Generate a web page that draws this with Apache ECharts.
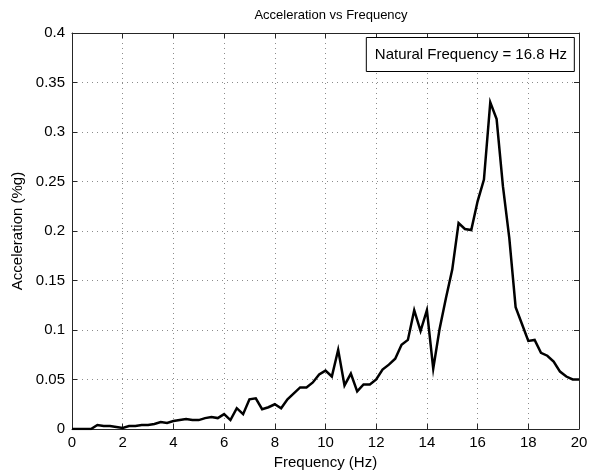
<!DOCTYPE html>
<html>
<head>
<meta charset="utf-8">
<script src="https://cdn.jsdelivr.net/npm/echarts@6/dist/echarts.min.js"></script>
<style>
html,body{margin:0;padding:0;background:#fff;}
#chart{width:595px;height:475px;}
</style>
</head>
<body>
<div id="chart"></div>
<script>
var frequencies = [0,0.25,0.5,0.75,1,1.25,1.5,1.75,2,2.25,2.5,2.75,3,3.25,3.5,3.75,4,4.25,4.5,4.75,5,5.25,5.5,5.75,6,6.25,6.5,6.75,7,7.25,7.5,7.75,8,8.25,8.5,8.75,9,9.25,9.5,9.75,10,10.25,10.5,10.75,11,11.25,11.5,11.75,12,12.25,12.5,12.75,13,13.25,13.5,13.75,14,14.25,14.5,14.75,15,15.25,15.5,15.75,16,16.25,16.5,16.75,17,17.25,17.5,17.75,18,18.25,18.5,18.75,19,19.25,19.5,19.75,20];
var acceleration = [0,0,0,0,0.004,0.003,0.003,0.002,0.001,0.003,0.003,0.004,0.004,0.005,0.007,0.006,0.008,0.009,0.010,0.009,0.009,0.011,0.012,0.011,0.015,0.009,0.021,0.015,0.030,0.031,0.020,0.022,0.025,0.021,0.030,0.036,0.042,0.042,0.047,0.055,0.059,0.053,0.080,0.044,0.056,0.038,0.045,0.045,0.050,0.060,0.065,0.071,0.085,0.090,0.120,0.099,0.120,0.061,0.101,0.132,0.161,0.208,0.202,0.201,0.230,0.252,0.330,0.313,0.245,0.193,0.123,0.106,0.089,0.090,0.077,0.074,0.068,0.058,0.053,0.050,0.050];
var xTicks = [0,2,4,6,8,10,12,14,16,18,20];
var yTicks = [0,0.05,0.1,0.15,0.2,0.25,0.3,0.35,0.4];
var titleText = 'Acceleration vs Frequency';
var xLabel = 'Frequency (Hz)';
var yLabel = 'Acceleration (%g)';
var noteText = 'Natural Frequency = 16.8 Hz';

var points = frequencies.map(function(f, i){ return [f, acceleration[i]]; });
var font = 'Liberation Sans, Arial, sans-serif';
var axisColor = '#262626';
var gridLine = {show:true, lineStyle:{color:'#8c8c8c', width:1, type:[1,4]}};

var chart = echarts.init(document.getElementById('chart'), null, {renderer:'canvas'});
chart.setOption({
  animation:false,
  backgroundColor:'#fff',
  title:[
    {text:titleText, left:326, top:4, textAlign:'center',
     textStyle:{fontFamily:font, fontSize:13, fontWeight:'normal', color:'#000'}},
    {text:noteText, right:20, top:37, borderColor:'#000', borderWidth:1, padding:[10,8,10,9],
     backgroundColor:'#fff',
     textStyle:{fontFamily:font, fontSize:15, fontWeight:'normal', color:'#000'}}
  ],
  grid:{left:72, right:16, top:33, bottom:42, containLabel:false},
  xAxis:[
    {type:'value', min:xTicks[0], max:xTicks[xTicks.length-1], interval:xTicks[1]-xTicks[0],
     name:xLabel, nameLocation:'middle', nameGap:26,
     nameTextStyle:{fontFamily:font, fontSize:15, color:'#000'},
     axisLine:{show:true, onZero:false, lineStyle:{color:axisColor, width:1}},
     axisTick:{show:true, inside:true, length:5, lineStyle:{color:axisColor}},
     axisLabel:{fontFamily:font, fontSize:15, color:'#000', margin:6},
     splitLine:gridLine},
    {type:'value', position:'top', min:xTicks[0], max:xTicks[xTicks.length-1], interval:xTicks[1]-xTicks[0],
     axisLine:{show:true, onZero:false, lineStyle:{color:axisColor, width:1}},
     axisTick:{show:true, inside:true, length:5, lineStyle:{color:axisColor}},
     axisLabel:{show:false}, splitLine:{show:false}}
  ],
  yAxis:[
    {type:'value', min:yTicks[0], max:yTicks[yTicks.length-1], interval:yTicks[1]-yTicks[0],
     name:yLabel, nameLocation:'middle', nameGap:39,
     nameTextStyle:{fontFamily:font, fontSize:15, color:'#000'},
     axisLine:{show:true, onZero:false, lineStyle:{color:axisColor, width:1}},
     axisTick:{show:true, inside:true, length:5, lineStyle:{color:axisColor}},
     axisLabel:{fontFamily:font, fontSize:15, color:'#000', margin:7,
       formatter:function(v){ return String(parseFloat(v.toFixed(2))); }},
     splitLine:gridLine},
    {type:'value', position:'right', min:yTicks[0], max:yTicks[yTicks.length-1], interval:yTicks[1]-yTicks[0],
     axisLine:{show:true, onZero:false, lineStyle:{color:axisColor, width:1}},
     axisTick:{show:true, inside:true, length:5, lineStyle:{color:axisColor}},
     axisLabel:{show:false}, splitLine:{show:false}}
  ],
  series:[{
    type:'line', xAxisIndex:0, yAxisIndex:0, data:points,
    showSymbol:false, symbol:'none',
    lineStyle:{color:'#000', width:2.5, join:'miter'},
    z:5
  }]
});
</script>
</body>
</html>
